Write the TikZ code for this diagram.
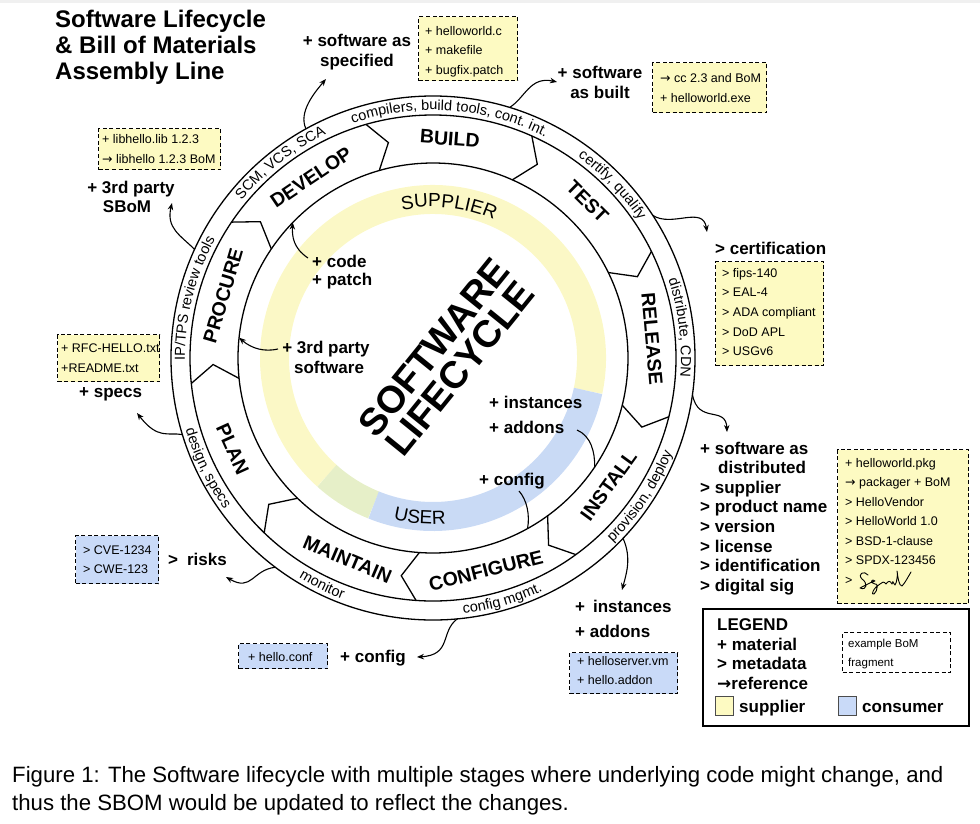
\documentclass[tikz,border=0pt]{standalone}
\usepackage{fontspec}
\setmainfont{Liberation Sans}
\newfontfamily\arrowfont{DejaVu Sans}
\usetikzlibrary{arrows.meta,decorations.text}
\definecolor{boxyellow}{HTML}{FDFAC2}
\definecolor{bandyellow}{HTML}{FBF8C6}
\definecolor{boxblue}{HTML}{C9DAF8}
\definecolor{bandblue}{HTML}{C9DAF5}
\definecolor{bandgreen}{HTML}{E6EFC8}
\newcommand\rarr{{\arrowfont →}}
\newcommand\ringfont{\fontsize{14.5}{16}\selectfont}
\newcommand\bandfont{\fontsize{19}{21}\selectfont}
\begin{document}
\begin{tikzpicture}[x=1pt,y=1pt,
  lbl/.style={font=\fontsize{17}{19}\selectfont\bfseries, inner sep=0pt, anchor=base west},
  clbl/.style={lbl, anchor=base},
  bomtext/.style={font=\fontsize{12.5}{14}\selectfont, inner sep=0pt, anchor=base west},
  bom/.style={draw=black, line width=1.4pt, dash pattern=on 4pt off 2.6pt, inner sep=0pt, anchor=north west},
  stagelbl/.style={font=\fontsize{19.5}{22}\selectfont\bfseries, inner sep=0pt},
  conn/.style={line width=1.1pt, -{Stealth[length=7pt,width=5.5pt]}},
  link/.style={line width=1.1pt},
  ring/.style={line width=1.3pt},
  ringtext/.style={decorate, decoration={text along path, text align=center, text={|\ringfont|#1}}},
  bandtext/.style={decorate, decoration={text along path, text align=center, text={|\bandfont|#1}}},
]
\useasboundingbox (0,0) rectangle (980,-823);
\fill[gray!12] (0,0) rectangle (980,-2.5);

% ---------------- title ----------------
\foreach \t [count=\i] in {Software Lifecycle, \& Bill of Materials, Assembly Line}
  \node[font=\fontsize{24}{26}\selectfont\bfseries, inner sep=0pt, anchor=base west] (title\i) at (55,{-27-26*(\i-1)}) {\t};

% ---------------- ring ----------------
\begin{scope}[shift={(433,-358)}]
  \coordinate (C) at (0,0);
  % coloured band
  \draw[line width=29pt, bandyellow] (-12:158.5pt) arc[start angle=-12, end angle=228, radius=158.5pt];
  \draw[line width=29pt, bandgreen] (228:158.5pt) arc[start angle=228, end angle=248, radius=158.5pt];
  \draw[line width=29pt, bandblue] (248:158.5pt) arc[start angle=248, end angle=348, radius=158.5pt];
  \path[bandtext=SUPPLIER] (124:151pt) arc[start angle=124, end angle=44, radius=151pt];
  \path[bandtext=USER] (-134.7:166pt) arc[start angle=-134.7, end angle=-54.7, radius=166pt];
  % circles
  \draw[ring] (C) circle[radius=262pt];
  \draw[ring] (C) circle[radius=243pt];
  \draw[ring] (C) circle[radius=195pt];
  % chevron separators
  \foreach \a in {146,106,66,26,-14,-54,-94,-134,-174}
    \draw[ring, line join=miter] (\a:243pt) -- ({\a-4.3}:220pt) -- (\a:195pt);
  % stage labels
  \node[stagelbl, rotate=-4.4] (build) at (85.6:220pt) {BUILD};
  \node[stagelbl, rotate=-44.6] (test) at (45.4:220pt) {TEST};
  \node[stagelbl, rotate=-85] (release) at (5:220pt) {RELEASE};
  \node[stagelbl, rotate=54] (install) at (-36:217pt) {INSTALL};
  \node[stagelbl, rotate=14] (configure) at (-76:219pt) {CONFIGURE};
  \node[stagelbl, rotate=-23] (maintain) at (-113:219pt) {MAINTAIN};
  \node[stagelbl, rotate=-65.6] (plan) at (-155.6:220pt) {PLAN};
  \node[stagelbl, rotate=73.5] (procure) at (163.5:219pt) {PROCURE};
  \node[stagelbl, rotate=34] (develop) at (124:218pt) {DEVELOP};
  % ring texts (top half: clockwise)
  \path[ringtext={compilers, build tools, cont. int.}] (136:248pt) arc[start angle=136, end angle=36, radius=248pt];
  \path[ringtext={SCM, VCS, SCA}] (168:248pt) arc[start angle=168, end angle=88, radius=248pt];
  \path[ringtext={IP/TPS review tools}] (206:248pt) arc[start angle=206, end angle=126, radius=248pt];
  \path[ringtext={certify, qualify}] (84:248pt) arc[start angle=84, end angle=4, radius=248pt];
  \path[ringtext={distribute, CDN}] (47:248pt) arc[start angle=47, end angle=-33, radius=248pt];
  % ring texts (bottom half: counter-clockwise)
  \path[ringtext={provision, deploy}] (-73.7:257.5pt) arc[start angle=-73.7, end angle=6.3, radius=257.5pt];
  \path[ringtext={config mgmt.}] (-114:257.5pt) arc[start angle=-114, end angle=-34, radius=257.5pt];
  \path[ringtext={monitor}] (-156:257.5pt) arc[start angle=-156, end angle=-76, radius=257.5pt];
  \path[ringtext={design, specs}] (-194:257.5pt) arc[start angle=-194, end angle=-114, radius=257.5pt];
  % attachment points on the ring
  \coordinate (sSpec) at (119:262pt);
  \coordinate (sBuilt) at (73:262pt);
  \coordinate (sCert) at (33:262pt);
  \coordinate (sDist) at (-8:262pt);
  \coordinate (sInst) at (-43.5:262pt);
  \coordinate (sConf) at (-84.7:262pt);
  \coordinate (sRisk) at (-127:262pt);
  \coordinate (sSpecs) at (-163:262pt);
  \coordinate (sSBoM) at (155.5:262pt);
  \coordinate (tCode) at (136:195pt);
  \coordinate (t3rd) at (174:195pt);
  \coordinate (eAdd) at (-34:195pt);
  \coordinate (eConf) at (-61:195pt);
\end{scope}

% centre title
\node[font=\fontsize{38}{34}\selectfont\bfseries, align=center, rotate=51, inner sep=0pt] (centre) at (447,-358) {SOFTWARE\\LIFECYCLE};

% ---------------- inner labels ----------------
\node[lbl] (code1) at (312,-267) {+ code};
\node[lbl] (code2) at (312,-285) {+ patch};
\node[clbl] (third1) at (326,-353) {+ 3rd party};
\node[clbl] (third2) at (329,-373) {software};
\node[lbl] (inst1) at (489,-408) {+ instances};
\node[lbl] (inst2) at (489,-433) {+ addons};
\node[lbl] (cfg1) at (479,-485) {+ config};
\coordinate (fCode) at (308,-258);
\coordinate (f3rd) at (278,-349);
\coordinate (fAdd) at (577,-430);
\coordinate (fConf) at (519,-491);
\draw[conn] (fCode) .. controls (293,-248) and (292,-236) .. (tCode);
\draw[conn] (f3rd) .. controls (265,-352) and (252,-349) .. (t3rd);
\draw[link] (fAdd) .. controls (591,-436) and (595,-452) .. (eAdd);
\draw[link] (fConf) .. controls (527,-500) and (530,-515) .. (eConf);

% ---------------- outer labels ----------------
\node[clbl] (spec1) at (357,-46) {+ software as};
\node[clbl] (spec2) at (357,-66) {specified};
\node[clbl] (built1) at (600,-78) {+ software};
\node[clbl] (built2) at (600,-98) {as built};
\node[lbl] (cert) at (715,-254) {> certification};
\foreach \t [count=\i] in {+ software as, \hspace*{18pt}distributed, > supplier, > product name, > version, > license, > identification, > digital sig}
  \node[lbl] (dist\i) at (700,{-454-19.6*(\i-1)}) {\t};
\node[lbl] (oinst1) at (575,-612) {+\hspace{8pt}instances};
\node[lbl] (oinst2) at (575,-637) {+ addons};
\node[lbl] (ocfg) at (340,-662) {+ config};
\node[lbl] (risks) at (168,-565) {>\hspace{9pt}risks};
\node[lbl] (specs) at (79,-397) {+ specs};
\node[clbl] (sbom1) at (131,-193) {+ 3rd party};
\node[clbl] (sbom2) at (127,-212) {SBoM};

\coordinate (tSpec) at (326,-79);
\coordinate (tBuilt) at (557,-82);
\coordinate (tCert) at (707,-232);
\coordinate (tDist) at (727,-432);
\coordinate (tInst) at (622,-590);
\coordinate (tConf) at (417,-657);
\coordinate (tRisk) at (226,-577);
\coordinate (tSpecs) at (137,-413);
\coordinate (tSBoM) at (172,-203);
\draw[conn] (sSpec) .. controls (298,-112) and (315,-92) .. (tSpec);
\draw[conn] (sBuilt) .. controls (525,-98) and (530,-76) .. (tBuilt);
\draw[conn] (sCert) .. controls (672,-228) and (703,-205) .. (tCert);
\draw[conn] (sDist) .. controls (698,-425) and (726,-405) .. (tDist);
\draw[conn] (sInst) .. controls (632,-558) and (626,-575) .. (tInst);
\draw[conn] (sConf) .. controls (440,-632) and (452,-655) .. (tConf);
\draw[conn] (sRisk) .. controls (252,-570) and (252,-592) .. (tRisk);
\draw[conn] (sSpecs) .. controls (168,-432) and (158,-440) .. (tSpecs);
\draw[conn] (sSBoM) .. controls (180,-235) and (166,-228) .. (tSBoM);

% ---------------- BoM boxes ----------------
\node[bom, fill=boxyellow, minimum width=99pt, minimum height=64pt] (B1) at (418,-16) {};
\foreach \t [count=\i] in {+ helloworld.c, + makefile, + bugfix.patch}
  \node[bomtext] (b1l\i) at (425,{-35-19.5*(\i-1)}) {\t};

\node[bom, fill=boxyellow, minimum width=114pt, minimum height=50pt] (B2) at (652,-62) {};
\foreach \t [count=\i] in {\rarr{} cc 2.3 and BoM, + helloworld.exe}
  \node[bomtext] (b2l\i) at (660,{-82-20*(\i-1)}) {\t};

\node[bom, fill=boxyellow, minimum width=122pt, minimum height=41pt] (B3) at (98,-128) {};
\foreach \t [count=\i] in {+ libhello.lib 1.2.3, \rarr{} libhello 1.2.3 BoM}
  \node[bomtext] (b3l\i) at (102,{-143-20*(\i-1)}) {\t};

\node[bom, fill=boxyellow, minimum width=102pt, minimum height=47pt] (B4) at (57,-334) {};
\foreach \t [count=\i] in {+ RFC-HELLO.txt, +README.txt}
  \node[bomtext] (b4l\i) at (61,{-352-20*(\i-1)}) {\t};

\node[bom, fill=boxyellow, minimum width=108pt, minimum height=104pt] (B5) at (715,-261) {};
\foreach \t [count=\i] in {> fips-140, > EAL-4, > ADA compliant, > DoD APL, > USGv6}
  \node[bomtext] (b5l\i) at (722,{-277-19.7*(\i-1)}) {\t};

\node[bom, fill=boxyellow, minimum width=131pt, minimum height=154pt] (B6) at (837,-449) {};
\foreach \t [count=\i] in {+ helloworld.pkg, \rarr{} packager + BoM, > HelloVendor, > HelloWorld 1.0, > BSD-1-clause, > SPDX-123456, >}
  \node[bomtext] (b6l\i) at (845,{-467-19.5*(\i-1)}) {\t};
% handwritten signature
\draw[line width=0.9pt, line cap=round, line join=round]
  (868,-575) .. controls (864,-570) and (857,-574) .. (862,-579)
  .. controls (868,-583) and (867,-591) .. (860,-588)
  .. controls (866,-585) and (871,-582) .. (875,-581)
  .. controls (872,-578) and (869,-583) .. (875,-584)
  .. controls (878,-582) and (878,-591) .. (874,-594)
  .. controls (870,-596) and (874,-587) .. (880,-584)
  .. controls (882,-582) and (884,-581) .. (886,-584)
  .. controls (888,-581) and (890,-580) .. (892,-584)
  .. controls (894,-581) and (891,-580) .. (895,-585)
  .. controls (897,-583) and (898,-572) .. (897,-571)
  .. controls (898,-578) and (899,-586) .. (902,-586)
  .. controls (905,-583) and (908,-577) .. (911,-572);

\node[bom, fill=boxblue, minimum width=83pt, minimum height=48pt] (B7) at (75,-535) {};
\foreach \t [count=\i] in {> CVE-1234, > CWE-123}
  \node[bomtext] (b7l\i) at (83,{-554-19.5*(\i-1)}) {\t};

\node[bom, fill=boxblue, minimum width=89pt, minimum height=25pt] (B8) at (238,-643) {};
\node[bomtext] (b8l1) at (248,-661) {+ hello.conf};

\node[bom, fill=boxblue, minimum width=108pt, minimum height=41pt] (B9) at (569,-652) {};
\foreach \t [count=\i] in {+ helloserver.vm, + hello.addon}
  \node[bomtext] (b9l\i) at (577,{-665-19.5*(\i-1)}) {\t};

% ---------------- legend ----------------
\node[draw=black, line width=1.5pt, anchor=north west, minimum width=266pt, minimum height=117pt, inner sep=0pt] (legend) at (702,-608) {};
\node[lbl] (lg1) at (717,-630) {LEGEND};
\node[lbl] (lg2) at (717,-650) {+ material};
\node[lbl] (lg3) at (717,-669) {> metadata};
\node[lbl] (lg4) at (717,-689) {{\arrowfont\bfseries →}reference};
\node[draw=black!70, line width=0.8pt, fill=boxyellow, anchor=north west, minimum width=18pt, minimum height=19pt, inner sep=0pt] (sqY) at (715,-696) {};
\node[lbl] (lg5) at (739,-712) {supplier};
\node[draw=black!70, line width=0.8pt, fill=boxblue, anchor=north west, minimum width=18pt, minimum height=19pt, inner sep=0pt] (sqB) at (838,-696) {};
\node[lbl] (lg6) at (862,-712) {consumer};
\node[bom, fill=white, minimum width=108pt, minimum height=40pt, line width=1.2pt] (lgbox) at (842,-632) {};
\node[font=\fontsize{11.5}{13}\selectfont, inner sep=0pt, anchor=base west] (lgb1) at (848,-647) {example BoM};
\node[font=\fontsize{11.5}{13}\selectfont, inner sep=0pt, anchor=base west] (lgb2) at (848,-666) {fragment};

% ---------------- caption ----------------
\node[font=\fontsize{22.2}{24}\selectfont, inner sep=0pt, anchor=base west] (cap1) at (12,-782) {Figure 1: The Software lifecycle with multiple stages where underlying code might change, and};
\node[font=\fontsize{22.2}{24}\selectfont, inner sep=0pt, anchor=base west] (cap2) at (12,-810) {thus the SBOM would be updated to reflect the changes.};
\end{tikzpicture}
\end{document}
